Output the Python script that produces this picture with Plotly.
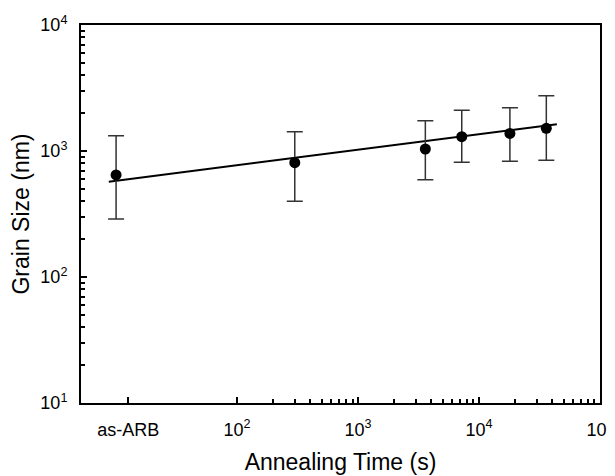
import plotly.graph_objects as go

# annealing data (as-ARB plotted at t = 10 s)
time_s = [10, 300, 3600, 7200, 18000, 36000]
grain_nm = [646, 807, 1037, 1300, 1380, 1514]
err_plus = [676, 616, 703, 804, 828, 1234]
err_minus = [358, 408, 445, 487, 552, 671]

# fitted line
fit_x = [8.7, 44000]
fit_y = [571, 1629]

x_tickvals = [12.6, 100, 1000, 10000, 100000]
x_ticktext = ["as-ARB", "10<sup>2</sup>", "10<sup>3</sup>", "10<sup>4</sup>", "10<sup>5</sup>"]
y_tickvals = [10, 100, 1000, 10000]
y_ticktext = ["10<sup>1</sup>", "10<sup>2</sup>", "10<sup>3</sup>", "10<sup>4</sup>"]

x_minor = [m * d for d in [100, 1000, 10000] for m in range(2, 10)]
y_minor = [m * d for d in [10, 100, 1000] for m in range(2, 10)]

font = "Liberation Sans, Arial, sans-serif"

fig = go.Figure()
fig.add_trace(go.Scatter(x=fit_x, y=fit_y, mode="lines",
                         line=dict(color="black", width=2), showlegend=False))
fig.add_trace(go.Scatter(
    x=time_s, y=grain_nm, mode="markers",
    marker=dict(color="black", size=11),
    error_y=dict(type="data", symmetric=False, array=err_plus, arrayminus=err_minus,
                 color="#333333", thickness=1.5, width=8),
    showlegend=False))

# page body has an 8px margin, so the figure is 8px smaller than the window
fig.update_layout(
    width=607, height=468,
    margin=dict(l=73, r=15, t=17, b=73),
    paper_bgcolor="white", plot_bgcolor="white",
    font=dict(family=font, color="black", size=18),
)
fig.update_xaxes(
    type="log", range=[0.71, 5.0], automargin=False,
    tickvals=x_tickvals, ticktext=x_ticktext,
    ticks="inside", ticklen=6, tickcolor="black", tickwidth=1.5,
    minor=dict(tickvals=x_minor, ticks="inside", ticklen=4, tickcolor="black", showgrid=False),
    showgrid=False, zeroline=False,
    showline=True, linecolor="black", linewidth=2, mirror=True,
    ticklabelstandoff=9,
    title=dict(text="Annealing Time (s)", font=dict(size=23), standoff=15),
)
fig.update_yaxes(
    type="log", range=[1, 4], automargin=False,
    tickvals=y_tickvals, ticktext=y_ticktext,
    ticks="inside", ticklen=6, tickcolor="black", tickwidth=1.5,
    minor=dict(tickvals=y_minor, ticks="inside", ticklen=4, tickcolor="black", showgrid=False),
    showgrid=False, zeroline=False,
    showline=True, linecolor="black", linewidth=2, mirror=True,
    ticklabelstandoff=8,
    title=dict(text="Grain Size (nm)", font=dict(size=23), standoff=10),
)

fig.write_html("out.html")
